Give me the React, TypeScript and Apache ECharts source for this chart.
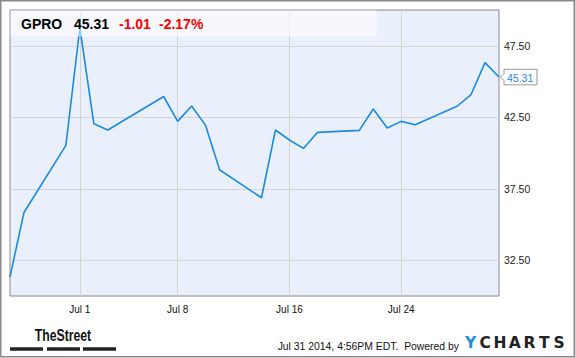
import React, { useEffect, useRef } from "react";
import * as echarts from "echarts";

const dates = [
  "2014-06-26", "2014-06-27", "2014-06-30", "2014-07-01", "2014-07-02", "2014-07-03",
  "2014-07-07", "2014-07-08", "2014-07-09", "2014-07-10", "2014-07-11", "2014-07-14",
  "2014-07-15", "2014-07-16", "2014-07-17", "2014-07-18", "2014-07-21", "2014-07-22",
  "2014-07-23", "2014-07-24", "2014-07-25", "2014-07-28", "2014-07-29", "2014-07-30",
  "2014-07-31",
];
const prices = [
  31.34, 35.84, 40.53, 48.76, 42.05, 41.61,
  43.95, 42.21, 43.29, 41.93, 38.83, 36.87,
  41.61, 40.91, 40.32, 41.44, 41.58, 43.08,
  41.75, 42.21, 41.98, 43.27, 44.09, 46.32,
  45.31,
];
const xTickDates = ["2014-07-01", "2014-07-08", "2014-07-16", "2014-07-24"];
const xTickLabels = ["Jul 1", "Jul 8", "Jul 16", "Jul 24"];
const yTicks = [32.5, 37.5, 42.5, 47.5];
const xRange = ["2014-06-26", "2014-07-31"];
const yRange = [30, 50];

const ticker = "GPRO";
const lastPrice = "45.31";
const change = "-1.01";
const changePct = "-2.17%";
const footerText = "Jul 31 2014, 4:56PM EDT.  Powered by";
const logoLetters = ["Y", "C", "H", "A", "R", "T", "S"];

const DAY = 86400000;
const toDay = (d: string) => {
  const [y, m, dd] = d.split("-").map(Number);
  return Math.round(Date.UTC(y, m - 1, dd) / DAY);
};

export default function App() {
  const ref = useRef<HTMLDivElement>(null);
  useEffect(() => {
    if (!ref.current) return;
    const chart = echarts.init(ref.current, null, { renderer: "svg" });
    const xTickDays = xTickDates.map(toDay);
    const labelMap: Record<number, string> = {};
    xTickDays.forEach((t, i) => (labelMap[t] = xTickLabels[i]));
    const data = dates.map((d, i) => [toDay(d), prices[i]]);
    const font = "Arial, 'Liberation Sans', sans-serif";

    const baseGraphics: any[] = [
      {
        type: "rect",
        z: 100,
        shape: { x: 0.75, y: 0.75, width: 573.5, height: 356 },
        style: { fill: "none", stroke: "#8a8a8a", lineWidth: 1.5 },
        silent: true,
      },
      {
        type: "rect",
        z: 50,
        shape: { x: 10.5, y: 10.5, width: 366, height: 26 },
        style: { fill: "rgba(255,255,255,0.55)" },
        silent: true,
      },
      {
        type: "text",
        z: 60,
        x: 21,
        y: 24,
        style: { text: ticker, font: `bold 14px ${font}`, fill: "#000", verticalAlign: "middle" },
      },
      {
        type: "text",
        z: 60,
        x: 74,
        y: 24,
        style: { text: lastPrice, font: `bold 14px ${font}`, fill: "#000", verticalAlign: "middle" },
      },
      {
        type: "text",
        z: 60,
        x: 119,
        y: 24,
        style: { text: change, font: `bold 14px ${font}`, fill: "#f00", verticalAlign: "middle" },
      },
      {
        type: "text",
        z: 60,
        x: 159,
        y: 24,
        style: { text: changePct, font: `bold 14px ${font}`, fill: "#f00", verticalAlign: "middle" },
      },
      {
        type: "text",
        z: 60,
        x: 63,
        y: 335,
        scaleX: 0.72,
        originX: 0,
        style: {
          text: "TheStreet",
          font: `bold 17px ${font}`,
          fill: "#111",
          align: "center",
          verticalAlign: "middle",
        },
      },
      ...[10, 47, 83].map((x) => ({
        type: "rect",
        z: 60,
        shape: { x, y: 347.3, width: 33, height: 3.4 },
        style: { fill: "#222" },
      })),
      {
        type: "text",
        z: 60,
        x: 459,
        y: 346,
        style: {
          text: footerText,
          font: `10.4px ${font}`,
          fill: "#111",
          align: "right",
          verticalAlign: "middle",
        },
      },
      ...logoLetters.map((ch, i) => ({
        type: "text",
        z: 60,
        x: 470.5 + i * 14.75,
        y: 343,
        style: {
          text: ch,
          font: `bold 15.5px 'DejaVu Sans', ${font}`,
          fill: i === 0 ? "#1e8fe1" : "#222",
          align: "center",
          verticalAlign: "middle",
        },
      })),
    ];

    chart.setOption({
      animation: false,
      grid: {
        left: 10,
        right: 76,
        top: 10,
        bottom: 62,
        show: true,
        backgroundColor: "#eaf0fb",
        borderColor: "#888",
        borderWidth: 1,
      },
      xAxis: {
        type: "value",
        min: toDay(xRange[0]),
        max: toDay(xRange[1]),
        axisLine: { show: false },
        axisTick: { show: false, customValues: xTickDays },
        splitLine: { show: true, lineStyle: { color: "#d4d4d4", width: 1 } },
        axisLabel: {
          customValues: xTickDays,
          formatter: (v: number) => labelMap[v] ?? "",
          color: "#111",
          fontSize: 10,
          fontFamily: font,
          margin: 8,
        },
      },
      yAxis: {
        type: "value",
        position: "right",
        min: yRange[0],
        max: yRange[1],
        axisLine: { show: false },
        axisTick: { show: false, customValues: yTicks },
        splitLine: { show: true, lineStyle: { color: "#d4d4d4", width: 1 } },
        axisLabel: {
          customValues: yTicks,
          formatter: (v: number) => v.toFixed(2),
          color: "#222",
          fontSize: 10.5,
          fontFamily: font,
          margin: 5,
        },
      },
      series: [
        {
          type: "line",
          data,
          showSymbol: false,
          symbol: "none",
          lineStyle: { color: "#1c8ae2", width: 1.6 },
          z: 10,
        },
      ],
      graphic: baseGraphics,
    });

    const last = data[data.length - 1];
    const [px, py] = chart.convertToPixel({ xAxisIndex: 0, yAxisIndex: 0 }, last) as number[];
    const bx = px + 5;
    const bw = 33;
    const bh = 15.5;
    chart.setOption({
      graphic: [
        ...baseGraphics,
        {
          type: "polygon",
          z: 70,
          shape: {
            points: [
              [bx, py - bh / 2],
              [bx + bw, py - bh / 2],
              [bx + bw, py + bh / 2],
              [bx, py + bh / 2],
              [bx, py + 3.5],
              [px + 1.5, py],
              [bx, py - 3.5],
            ],
          },
          style: { fill: "#fff", stroke: "#999", lineWidth: 1 },
        },
        {
          type: "text",
          z: 71,
          x: bx + 3,
          y: py + 0.5,
          style: {
            text: lastPrice,
            font: `10.5px ${font}`,
            fill: "#1e88e5",
            verticalAlign: "middle",
          },
        },
      ],
    });

    return () => chart.dispose();
  }, []);
  return (
    <div
      ref={ref}
      style={{ position: "fixed", left: 0, top: 0, width: 575, height: 358, background: "#fff" }}
    />
  );
}
